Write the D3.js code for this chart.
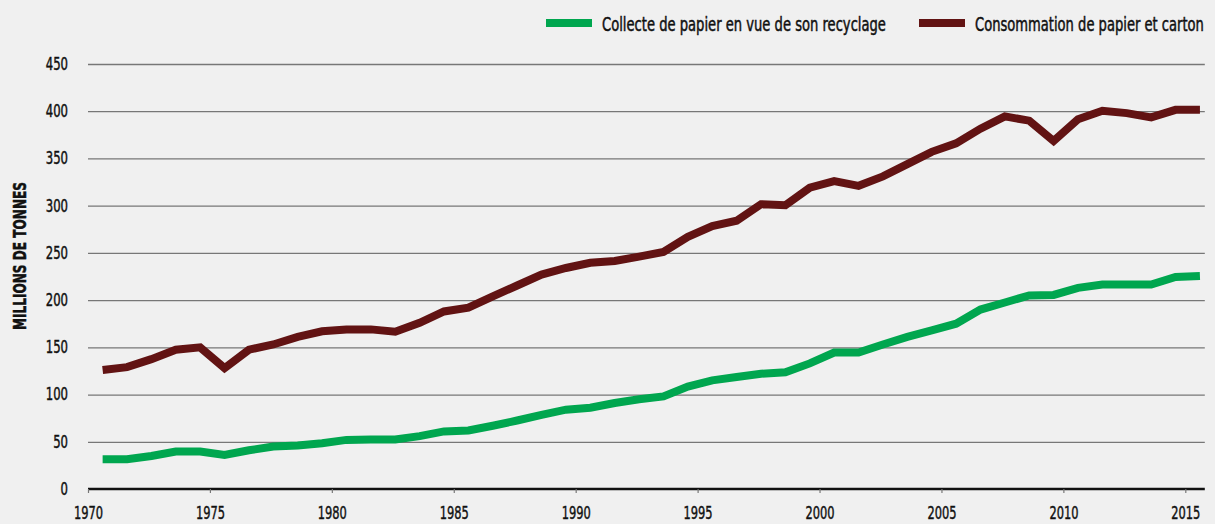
<!DOCTYPE html>
<html><head><meta charset="utf-8">
<script src="https://cdn.jsdelivr.net/npm/d3@7"></script>
<style>
body{margin:0;background:#f0f0f0;}
svg{display:block;background:#f0f0f0;}
text{font-family:"DejaVu Sans Condensed","Liberation Sans Narrow",sans-serif;fill:#111;}
</style></head><body>
<svg id="chart" width="1215" height="524"></svg>
<script>
const years = d3.range(1970, 2016);
const collecte = [31.5,31.5,35,39.6,39.6,36,41,45,46,48.5,
  52,52.5,52.5,56,61,62,67,72.5,78.5,84,
  86,91,95,98,108.5,115,118.5,122,123.5,133,
  144.5,144.5,153,161,168,175,190,197.5,205,205.5,
  213,216.5,216.5,216.5,224.5,225.5];
const consommation = [126,129,137.5,147.5,150,128,147.5,153,161,167,
  169,169,166.5,176,188,192,204,215.5,227,234,
  239.5,241.5,246,251,267,278.5,284,301.5,300.5,319,
  326,321,331,344,357,366,381.5,394.5,390,368.5,
  391.5,400.5,398,393.5,401.5,401.5];
const yTicks = [0,50,100,150,200,250,300,350,400,450];
const xTicks = [1970,1975,1980,1985,1990,1995,2000,2005,2010,2015];
const seriesNames = ["Collecte de papier en vue de son recyclage","Consommation de papier et carton"];
const seriesColors = ["#00a64f","#621313"];
const yTitle = "MILLIONS DE TONNES";

const svg = d3.select("#chart");
const x = d3.scaleLinear().domain([1970, 2015]).range([88, 1185.3]);
const y = d3.scaleLinear().domain([0, 450]).range([489, 64]);
const xEnd = x(2015.8);

function styleTickText(sel, perChar) {
  sel.attr("font-size", 18).attr("fill", "#111")
    .attr("font-family", "DejaVu Sans Condensed, sans-serif")
    .attr("stroke", "#111").attr("stroke-width", 0.45)
    .attr("textLength", d => String(d).length * perChar)
    .attr("lengthAdjust", "spacingAndGlyphs");
}

// gridlines + y labels
const gy = svg.append("g").attr("transform", "translate(88,0)")
  .call(d3.axisLeft(y).tickValues(yTicks).tickSize(-(xEnd - 88)).tickPadding(20));
gy.select(".domain").remove();
gy.selectAll(".tick line").attr("stroke", "#777").attr("stroke-width", 1.3)
  .filter(d => d === 0).remove();
gy.selectAll(".tick text").call(styleTickText, 7.4).attr("dy", "0.3em");

// x axis
const gx = svg.append("g").attr("transform", `translate(0,${y(0)})`)
  .call(d3.axisBottom(x).tickValues(xTicks).tickFormat(d3.format("d")).tickSize(4).tickPadding(10));
gx.select(".domain").attr("d", `M88,0H${xEnd}`).attr("stroke", "#111").attr("stroke-width", 2.6);
gx.selectAll(".tick line").attr("stroke", "#777").attr("stroke-width", 1.2);
gx.selectAll(".tick text").call(styleTickText, 7.25).attr("y", 30).attr("dy", null);

// y title
svg.append("text").attr("transform", "translate(26,256) rotate(-90)")
  .attr("text-anchor", "middle").attr("font-size", 18).attr("font-weight", "bold")
  .attr("stroke", "#111").attr("stroke-width", 0.5)
  .attr("textLength", 148).attr("lengthAdjust", "spacingAndGlyphs")
  .text(yTitle);

// lines
const line = d3.line().x((d, i) => x(years[i] + 0.6)).y(d => y(d));
[collecte, consommation].forEach((s, k) => {
  svg.append("path").datum(s).attr("d", line).attr("fill", "none")
    .attr("stroke", seriesColors[k]).attr("stroke-width", 8)
    .attr("stroke-linejoin", "miter").attr("stroke-linecap", "butt");
});

// legend (text horizontally condensed to the reference widths)
const legX = [546, 919], legTextX = [602, 975], legTextW = [284, 229];
seriesNames.forEach((n, k) => {
  svg.append("line").attr("x1", legX[k]).attr("x2", legX[k] + 46).attr("y1", 23).attr("y2", 23)
    .attr("stroke", seriesColors[k]).attr("stroke-width", 8);
  const t = svg.append("text").attr("x", 0).attr("y", 0).attr("font-size", 20)
    .attr("stroke", "#111").attr("stroke-width", 0.5).text(n);
  const w = t.node().getComputedTextLength();
  t.attr("transform", `translate(${legTextX[k]},31) scale(${legTextW[k] / w},1)`);
});
</script>
</body></html>
